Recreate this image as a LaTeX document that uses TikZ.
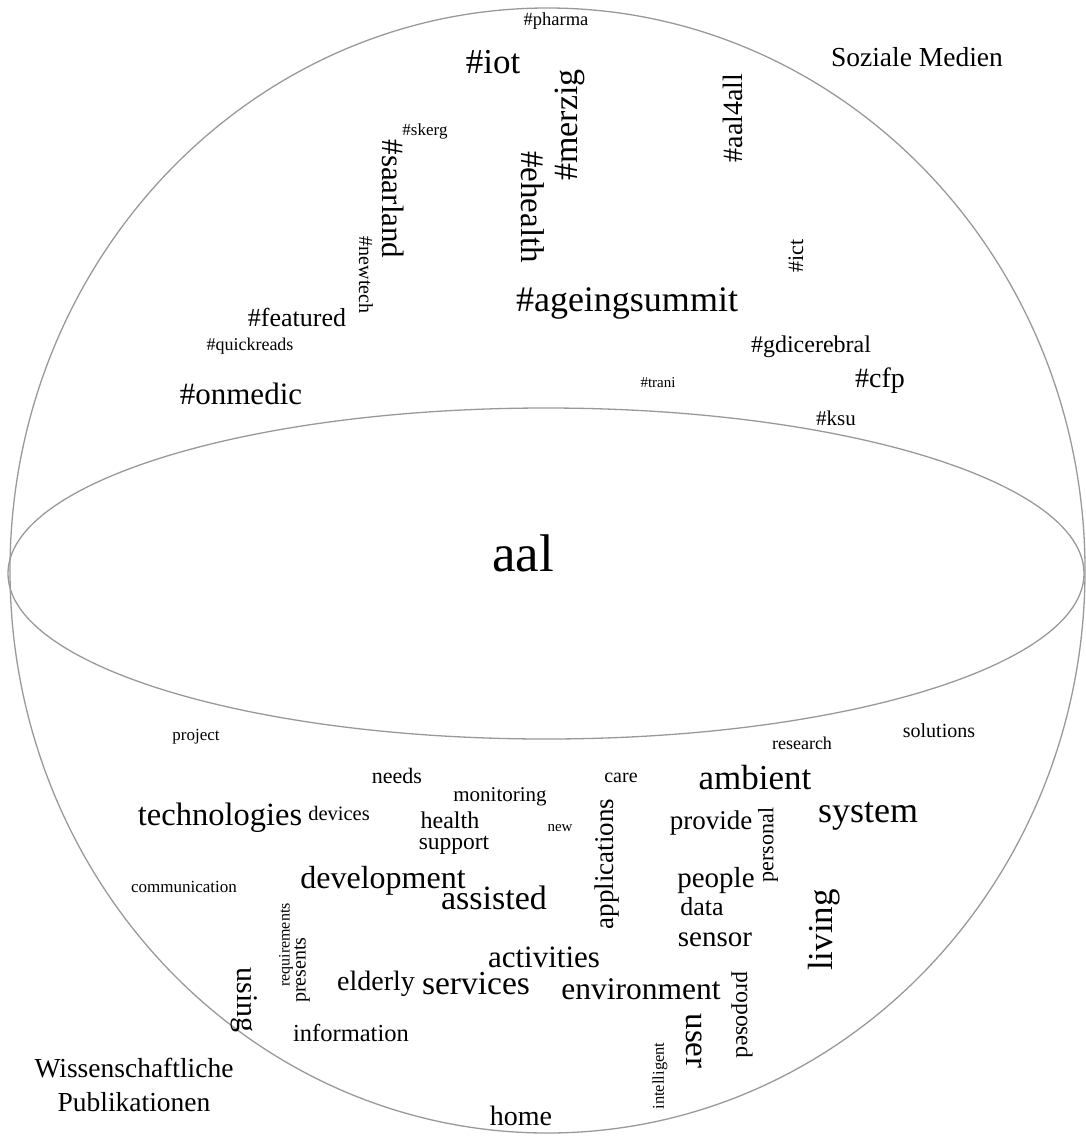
\documentclass[tikz,border=0pt]{standalone}
\usepackage{fontspec}
\setmainfont{Liberation Serif}
\tikzset{
  wd/.style={font=\fontsize{#1}{#1}\selectfont, inner sep=0pt, text=black},
  up/.style={rotate=90},
  down/.style={rotate=-90},
  outline/.style={draw=black!40, line width=1.3pt}
}
\begin{document}
\begin{tikzpicture}[x=1pt,y=-1pt]
\useasboundingbox (0,0) rectangle (1086,1138);
% sphere and equator
\draw[outline] (547.5,570.5) ellipse [x radius=537.5, y radius=562.5];
\draw[outline] (546,573.5) ellipse [x radius=538, y radius=165.5];
% labels
\node[wd=27.5] (soz) at (917,57) {Soziale Medien};
\node[wd=27.5, align=center] (wiss) at (134,1085) {Wissenschaftliche\\[7pt]Publikationen};
\node[wd=53] (aal) at (523,553) {aal};
% top hashtags
\node[wd=18.5] (pharma) at (556,21) {\#pharma};
\node[wd=35] (iot) at (493,62) {\#iot};
\node[wd=34,up] (merzig) at (570,125) {\#merzig};
\node[wd=28,up] (aal4all) at (733,118) {\#aal4all};
\node[wd=17] (skerg) at (425,131) {\#skerg};
\node[wd=31,down] (saarland) at (393,199) {\#saarland};
\node[wd=33,down] (ehealth) at (533,207) {\#ehealth};
\node[wd=20,down] (newtech) at (366,275) {\#newtech};
\node[wd=22,up] (ict) at (796,256) {\#ict};
\node[wd=26] (featured) at (297,317) {\#featured};
\node[wd=36] (ageing) at (627,303) {\#ageingsummit};
\node[wd=18] (quick) at (250,346) {\#quickreads};
\node[wd=24] (gdi) at (811,347) {\#gdicerebral};
\node[wd=31] (onmedic) at (241,394) {\#onmedic};
\node[wd=15] (trani) at (658,383) {\#trani};
\node[wd=28] (cfp) at (880,381) {\#cfp};
\node[wd=21] (ksu) at (836,418) {\#ksu};
% bottom words
\node[wd=17] (project) at (196,737) {project};
\node[wd=18] (research) at (802,743) {research};
\node[wd=20] (solutions) at (939,731) {solutions};
\node[wd=22] (needs) at (397,776) {needs};
\node[wd=21] (monitoring) at (500,797) {monitoring};
\node[wd=20] (care) at (621,778) {care};
\node[wd=35] (ambient) at (755,778) {ambient};
\node[wd=32.5] (technologies) at (220,818) {technologies};
\node[wd=20.5] (devices) at (339,813) {devices};
\node[wd=24] (health) at (450,820) {health};
\node[wd=23.5] (support) at (454,845) {support};
\node[wd=15] (new) at (560,828) {new};
\node[wd=27,up] (applications) at (607,864) {applications};
\node[wd=27] (provide) at (711,823) {provide};
\node[wd=22,up] (personal) at (768,845) {personal};
\node[wd=36] (system) at (868,816) {system};
\node[wd=17] (communication) at (184,887) {communication};
\node[wd=32] (development) at (383,881) {development};
\node[wd=34] (assisted) at (494,898) {assisted};
\node[wd=29] (people) at (716,881) {people};
\node[wd=26] (data) at (702,907) {data};
\node[wd=35,up] (living) at (824,930) {living};
\node[wd=29] (sensor) at (715,940) {sensor};
\node[wd=16,up] (requirements) at (286,945) {requirements};
\node[wd=20,up] (presents) at (302,970) {presents};
\node[wd=31] (activities) at (544,957) {activities};
\node[wd=30,down] (using) at (244,1000) {using};
\node[wd=28] (elderly) at (376,984) {elderly};
\node[wd=33.5] (services) at (476,984) {services};
\node[wd=31.5] (environment) at (641,989) {environment};
\node[wd=23.5,down] (proposed) at (742,1015) {proposed};
\node[wd=33,down] (user) at (694,1041) {user};
\node[wd=24.5] (information) at (351,1033) {information};
\node[wd=16.5,up] (intelligent) at (660,1076) {intelligent};
\node[wd=28] (home) at (521,1116) {home};
\end{tikzpicture}
\end{document}
